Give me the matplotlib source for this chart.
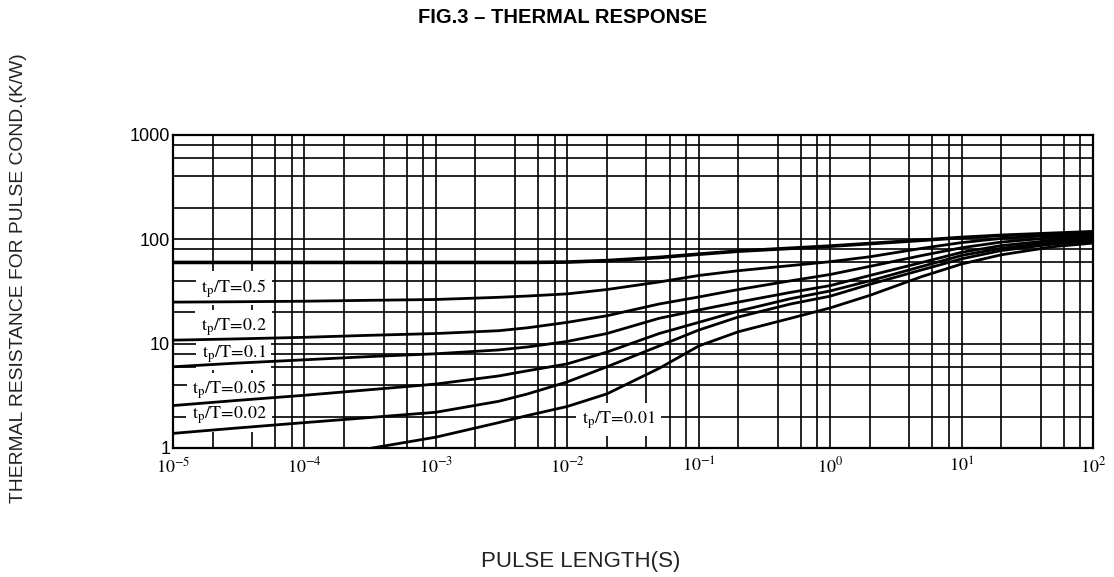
import math
import matplotlib.pyplot as plt
from matplotlib.ticker import LogLocator, FixedLocator, NullFormatter, FuncFormatter

plt.rcParams['mathtext.fontset'] = 'stix'

# pulse length (s) and thermal resistance (K/W)
pulse_s = [1e-5, 3e-5, 1e-4, 3e-4, 1e-3, 3e-3, 5e-3, 1e-2, 2e-2, 5e-2, 1e-1,
           2e-1, 5e-1, 1, 2, 5, 10, 20, 50, 100]
r_top = [60, 60, 60, 60, 60, 60, 60, 60.5, 62.5, 67, 72, 77, 82, 86, 91, 98, 104, 109, 114, 118]
r_d05 = [25, 25.2, 25.5, 26, 26.5, 27.8, 28.6, 30, 33, 39, 45, 50, 56, 61, 68, 82, 93, 102, 109, 113]
r_d02 = [10.8, 11.1, 11.5, 12, 12.5, 13.3, 14.2, 16, 18.5, 24, 28, 33, 40, 46, 55, 70, 83, 94, 104, 108]
r_d01 = [6.0, 6.5, 7.0, 7.5, 8.0, 8.7, 9.3, 10.5, 12.5, 17.5, 21, 25, 31, 36, 45, 60, 75, 87, 98, 104]
r_d005 = [2.55, 2.85, 3.2, 3.6, 4.1, 4.9, 5.5, 6.4, 8.3, 12.5, 16, 20.5, 27, 32, 40, 55, 70, 82, 94, 100]
r_d002 = [1.38, 1.55, 1.75, 1.95, 2.2, 2.8, 3.3, 4.3, 6.0, 9.5, 13.5, 18, 24, 28.5, 37, 51, 65, 78, 90, 96]
pulse_s_d001 = [3.3e-4, 1e-3, 3e-3, 5e-3, 1e-2, 2e-2, 5e-2, 1e-1, 2e-1, 5e-1, 1, 2, 5, 10, 20, 50, 100]
r_d001 = [1.0, 1.27, 1.75, 2.05, 2.5, 3.3, 5.8, 9.5, 13, 17.5, 22, 29, 44, 58, 71, 85, 92]

duty_labels = ['0.5', '0.2', '0.1', '0.05', '0.02', '0.01']

fig = plt.figure(figsize=(11.14, 5.77), dpi=100)
ax = fig.add_axes([0.1553, 0.2236, 0.8259, 0.5425])
ax.set_xscale('log')
ax.set_yscale('log')
ax.set_xlim(1e-5, 1e2)
ax.set_ylim(1, 1000)

# grid: decades plus 2,4,6,8
ax.xaxis.set_major_locator(LogLocator(base=10, numticks=20))
ax.xaxis.set_minor_locator(LogLocator(base=10, subs=[2, 4, 6, 8], numticks=20))
ax.yaxis.set_major_locator(FixedLocator([1, 10, 100, 1000]))
ax.yaxis.set_minor_locator(LogLocator(base=10, subs=[2, 4, 6, 8], numticks=20))
ax.xaxis.set_minor_formatter(NullFormatter())
ax.yaxis.set_minor_formatter(NullFormatter())
ax.xaxis.set_major_formatter(FuncFormatter(lambda v, p: r'$10^{%d}$' % round(math.log10(v))))
ax.yaxis.set_major_formatter(FuncFormatter(lambda v, p: f'{v:g}'))
ax.grid(True, which='both', color='black', linewidth=1.2, zorder=1)
ax.set_axisbelow(True)
ax.tick_params(which='both', length=0)
ax.tick_params(axis='x', labelsize=13, pad=6)
ax.tick_params(axis='y', labelsize=13, pad=2)
for lab in ax.get_yticklabels():
    lab.set_family('Liberation Sans')
for s in ax.spines.values():
    s.set_linewidth(1.6)

ax.plot(pulse_s, r_top, color='black', linewidth=2.6, zorder=4)
for r in [r_d05, r_d02, r_d01, r_d005, r_d002]:
    ax.plot(pulse_s, r, color='black', linewidth=2.0, zorder=4)
ax.plot(pulse_s_d001, r_d001, color='black', linewidth=2.0, zorder=4)

# curve labels with white boxes that cut the grid
label_pos = [(0.066, 0.51), (0.066, 0.387), (0.066, 0.30), (0.061, 0.185),
             (0.061, 0.105), (0.484, 0.09)]
for d, (fx, fy) in zip(duty_labels, label_pos):
    ax.text(fx, fy, r'$\mathrm{t_p/T\!=\!%s}$' % d, transform=ax.transAxes,
            fontsize=13, ha='center', va='center', zorder=3,
            bbox=dict(facecolor='white', edgecolor='none', pad=4))

fig.text(0.505, 0.969, 'FIG.3 \u2013 THERMAL RESPONSE', ha='center', va='center',
         fontsize=14.5, fontweight='bold', family='Liberation Sans')
fig.text(0.5215, 0.026, 'PULSE LENGTH(S)', ha='center', va='center',
         fontsize=16, color='#222222', family='Liberation Sans')
fig.text(0.017, 0.518, 'THERMAL RESISTANCE FOR PULSE COND.(K/W)', ha='center', va='center',
         rotation=90, fontsize=13.9, color='#222222', family='Liberation Sans')

fig.savefig('out.png', dpi=100)
